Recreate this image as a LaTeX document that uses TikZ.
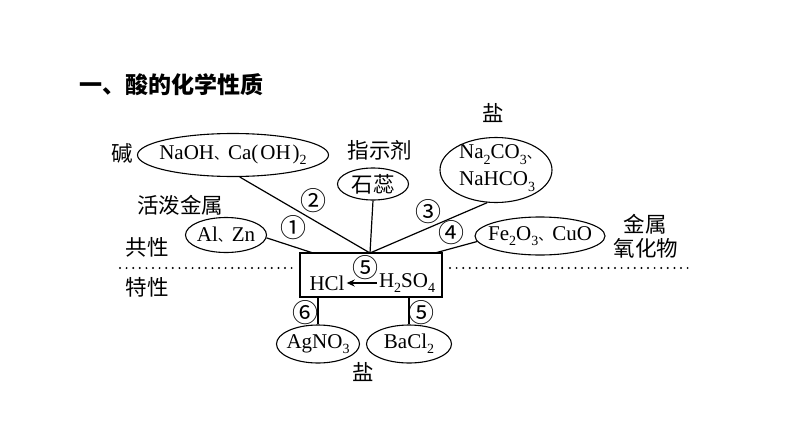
\documentclass[tikz,border=0pt]{standalone}
\usepackage{fontspec}
\setmainfont{Liberation Serif}
\newfontfamily\cjk{Noto Sans CJK SC}
\usetikzlibrary{arrows.meta,shapes.geometric}
\newcommand\dun{{\cjk\fontsize{14}{14}\selectfont 、}}
\newcommand\chsub[1]{\raisebox{-0.25em}{\fontsize{14}{14}\selectfont #1}}
\begin{document}
\begin{tikzpicture}[x=1pt,y=-1pt,
  every node/.style={inner sep=0pt,font=\fontsize{21}{27}\selectfont},
  oval/.style={draw,ellipse,line width=1.1pt},
  lbl/.style={font=\fontsize{21.5}{25}\selectfont\cjk},
  num/.style={font=\fontsize{26}{28}\selectfont\cjk},
  conn/.style={line width=1.2pt},
  dots/.style={line width=2.2pt,line cap=round,dash pattern=on 0pt off 6.6pt}]
\useasboundingbox (0,0) rectangle (794,447);
% title
\node[anchor=west,font=\fontsize{23}{26}\selectfont\cjk\bfseries] (title) at (79,85) {一、酸的化学性质};
% labels
\node[lbl] (jian) at (122,153) {碱};
\node[lbl] (zhishi) at (380,150) {指示剂};
\node[lbl] (yan1) at (493,113) {盐};
\node[lbl] (huopo) at (180,205) {活泼金属};
\node[lbl] (jinshu) at (645,224) {金属};
\node[lbl] (yanghua) at (646,248) {氧化物};
\node[lbl] (gong) at (147,247) {共性};
\node[lbl] (te) at (147,287) {特性};
\node[lbl] (yan2) at (363,372) {盐};
% ellipses (shapes)
\node[oval,minimum width=191pt,minimum height=43pt] (naoh) at (233,155) {};
\node[oval,minimum width=71pt,minimum height=32pt] (shirui) at (373,184) {};
\node[oval,minimum width=112pt,minimum height=65pt] (na2co3) at (496,170) {};
\node[oval,minimum width=81pt,minimum height=35pt] (alzn) at (226,235) {};
\node[oval,minimum width=130pt,minimum height=38pt] (fe2o3) at (540,236) {};
\node[oval,minimum width=83pt,minimum height=38pt] (agno3) at (318,344) {};
\node[oval,minimum width=85pt,minimum height=38pt] (bacl2) at (409,344) {};
% ellipse texts
\node (naoht) at (naoh) {NaOH\dun Ca(\kern2pt OH\kern2pt)\chsub2};
\node[lbl] (shiruit) at (shirui) {石蕊};
\node[align=left] (na2co3t) at ([xshift=4pt,yshift=2pt]na2co3.center) {Na\chsub2CO\chsub3\dun\\NaHCO\chsub3};
\node (alznt) at (alzn) {Al\dun Zn};
\node (fe2o3t) at (fe2o3) {Fe\chsub2O\chsub3\dun CuO};
\node (agno3t) at (agno3) {AgNO\chsub3};
\node (bacl2t) at (bacl2) {BaCl\chsub2};
% box
\node[draw,line width=1.3pt,minimum width=142pt,minimum height=44pt] (box) at (371,275) {};
\node (hcl) at (327,283) {HCl};
\node (hs) at (407,283) {H\chsub2SO\chsub4};
\draw[conn,-{Stealth[length=8pt,width=7pt]},shorten <=2pt,shorten >=2pt] (hs.west) -- (hcl.east);
% connection points on box top
\coordinate (c) at (370,253);
\coordinate (cl) at (313,253);
\coordinate (cr) at (435,253);
\draw[conn] (naoh.-73) -- (c);
\draw[conn] (shirui.south) -- (c);
\draw[conn] (na2co3.-105) -- (c);
\draw[conn] (alzn.-4) -- (cl);
\draw[conn] (fe2o3.185) -- (cr);
\draw[conn] (agno3.north) -- (agno3.north |- box.south);
\draw[conn] (bacl2.north) -- (bacl2.north |- box.south);
% numbers
\node[num] (n1) at (293,228) {①};
\node[num] (n2) at (313,201) {②};
\node[num] (n3) at (428,212) {③};
\node[num] (n4) at (451,233) {④};
\node[num] (n5a) at (365,268) {⑤};
\node[num] (n6) at (305,313) {⑥};
\node[num] (n5b) at (421,313) {⑤};
% dotted lines
\coordinate (d1) at (120,268);
\coordinate (d2) at (294,268);
\coordinate (d3) at (450,268);
\coordinate (d4) at (688,268);
\draw[dots] (d1) -- (d2);
\draw[dots] (d3) -- (d4);
\end{tikzpicture}
\end{document}
